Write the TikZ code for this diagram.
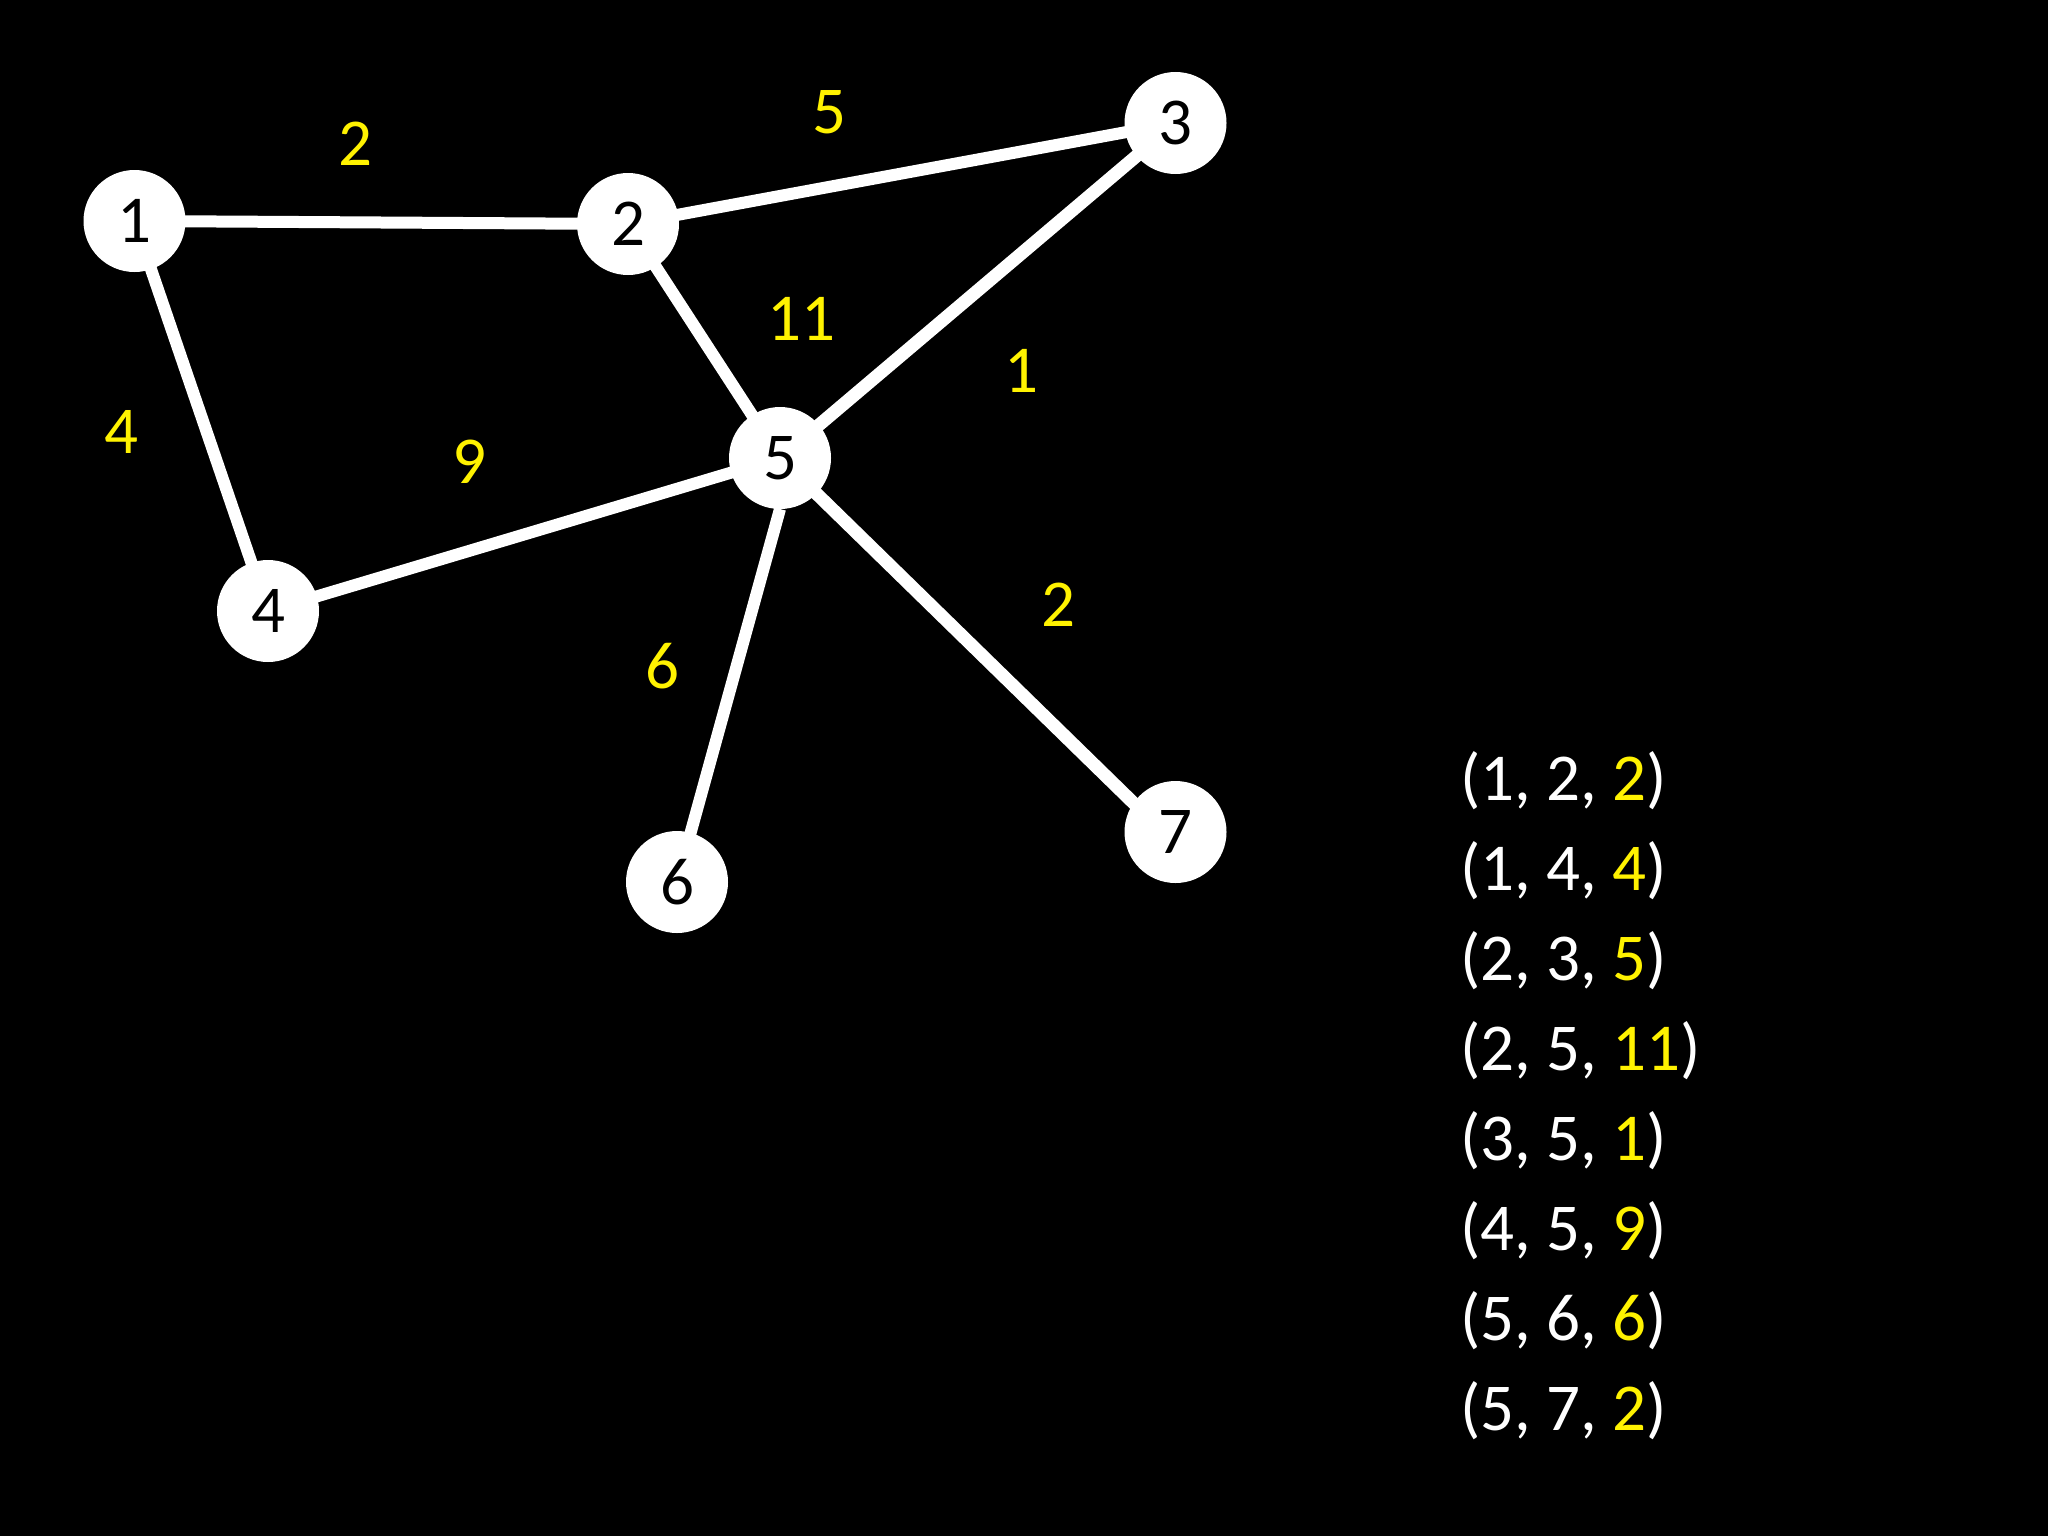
\documentclass[tikz,border=0pt]{standalone}
\usepackage{fontspec}
\setmainfont{Carlito}
\begin{document}
\begin{tikzpicture}[x=0.5pt,y=-0.5pt,
  vert/.style={circle,fill=white,draw=none,minimum size=51pt,inner sep=0pt,text=black,font=\fontsize{33.5}{40}\selectfont},
  edge/.style={draw=white,line width=6pt},
  edgeb/.style={draw=white,line width=6.5pt},
  wlabel/.style={text=yellow,font=\fontsize{33.5}{40}\selectfont,inner sep=0pt},
  row/.style={text=white,anchor=west,font=\fontsize{33.5}{40}\selectfont,inner sep=0pt}]
\fill[black] (0,0) rectangle (2048,1536);
\useasboundingbox (0,0) rectangle (2048,1536);
\coordinate (c1) at (134.5,221);
\coordinate (c2) at (628,224);
\coordinate (c3) at (1175.5,123);
\coordinate (c4) at (268,611);
\coordinate (c5) at (780,458);
\coordinate (c6) at (677,882);
\coordinate (c7) at (1175.5,832);
\coordinate (e7) at (1175.5,844);
\coordinate (s5) at (780,509);
\draw[edge] (c1) -- (c2);
\draw[edge] (c1) -- (c4);
\draw[edge] (c2) -- (c3);
\draw[edge] (c2) -- (c5);
\draw[edgeb] (c3) -- (c5);
\draw[edge] (c4) -- (c5);
\draw[edge] (s5) -- (c6);
\draw[edgeb] (c5) -- (e7);
\node[vert] (n1) at (c1) {1};
\node[vert] (n2) at (c2) {2};
\node[vert] (n3) at (c3) {3};
\node[vert] (n4) at (c4) {4};
\node[vert] (n5) at (c5) {5};
\node[vert] (n6) at (c6) {6};
\node[vert] (n7) at (c7) {7};
\node[wlabel] (w12) at (355,144) {2};
\node[wlabel] (w23) at (829,112) {5};
\node[wlabel] (w25) at (801,319) {11};
\node[wlabel] (w35) at (1021,371) {1};
\node[wlabel] (w14) at (121.5,432) {4};
\node[wlabel] (w45) at (469,462) {9};
\node[wlabel] (w57) at (1058,605) {2};
\node[wlabel] (w56) at (662,666) {6};
\node[row] (r1) at (1460,781) {(1, 2, \textcolor{yellow}{2})};
\node[row] (r2) at (1460,871) {(1, 4, \textcolor{yellow}{4})};
\node[row] (r3) at (1460,961) {(2, 3, \textcolor{yellow}{5})};
\node[row] (r4) at (1460,1051) {(2, 5, \textcolor{yellow}{11})};
\node[row] (r5) at (1460,1141) {(3, 5, \textcolor{yellow}{1})};
\node[row] (r6) at (1460,1231) {(4, 5, \textcolor{yellow}{9})};
\node[row] (r7) at (1460,1321) {(5, 6, \textcolor{yellow}{6})};
\node[row] (r8) at (1460,1411) {(5, 7, \textcolor{yellow}{2})};
\end{tikzpicture}
\end{document}
